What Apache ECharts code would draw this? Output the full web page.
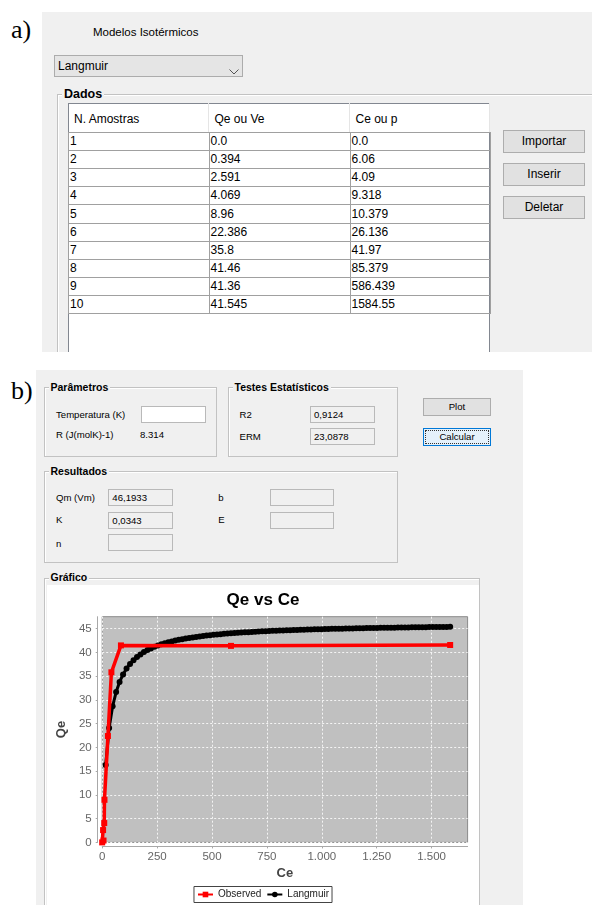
<!DOCTYPE html>
<html>
<head>
<meta charset="utf-8">
<script src="https://cdn.jsdelivr.net/npm/echarts@6/dist/echarts.min.js"></script>
<style>
body { margin: 0; width: 592px; height: 905px; background: #fff; position: relative; overflow: hidden;
       font-family: "Liberation Sans", Arial, sans-serif; color: #000; }
</style>
</head>
<body>
<script>
// dados da tabela (amostras observadas)
var amostras = [1, 2, 3, 4, 5, 6, 7, 8, 9, 10];
var qeObs = [0, 0.394, 2.591, 4.069, 8.96, 22.386, 35.8, 41.46, 41.36, 41.545];
var ceObs = [0, 6.06, 4.09, 9.318, 10.379, 26.136, 41.97, 85.379, 586.439, 1584.55];

// curva Langmuir
var ceLang = [15.8, 31.7, 47.5, 63.4, 79.2, 95.1, 110.9, 126.8, 142.6, 158.5,
    174.3, 190.1, 206.0, 221.8, 237.7, 253.5, 269.4, 285.2, 301.1, 316.9,
    332.8, 348.6, 364.4, 380.3, 396.1, 412.0, 427.8, 443.7, 459.5, 475.4,
    491.2, 507.1, 522.9, 538.7, 554.6, 570.4, 586.3, 602.1, 618.0, 633.8,
    649.7, 665.5, 681.4, 697.2, 713.0, 728.9, 744.7, 760.6, 776.4, 792.3,
    808.1, 824.0, 839.8, 855.7, 871.5, 887.3, 903.2, 919.0, 934.9, 950.7,
    966.6, 982.4, 998.3, 1014.1, 1030.0, 1045.8, 1061.6, 1077.5, 1093.3, 1109.2,
    1125.0, 1140.9, 1156.7, 1172.6, 1188.4, 1204.3, 1220.1, 1235.9, 1251.8, 1267.6,
    1283.5, 1299.3, 1315.2, 1331.0, 1346.9, 1362.7, 1378.6, 1394.4, 1410.2, 1426.1,
    1441.9, 1457.8, 1473.6, 1489.5, 1505.3, 1521.2, 1537.0, 1552.9, 1568.7, 1584.6];
var qeLang = [16.27, 24.06, 28.63, 31.64, 33.77, 35.35, 36.58, 37.56, 38.35, 39.01,
    39.57, 40.05, 40.47, 40.83, 41.15, 41.43, 41.68, 41.91, 42.11, 42.30,
    42.47, 42.63, 42.77, 42.90, 43.03, 43.14, 43.25, 43.35, 43.44, 43.52,
    43.61, 43.68, 43.75, 43.82, 43.89, 43.95, 44.00, 44.06, 44.11, 44.16,
    44.21, 44.25, 44.30, 44.34, 44.38, 44.42, 44.45, 44.49, 44.52, 44.55,
    44.59, 44.61, 44.64, 44.67, 44.70, 44.72, 44.75, 44.77, 44.80, 44.82,
    44.84, 44.86, 44.88, 44.90, 44.92, 44.94, 44.96, 44.98, 44.99, 45.01,
    45.03, 45.04, 45.06, 45.07, 45.09, 45.10, 45.11, 45.13, 45.14, 45.15,
    45.17, 45.18, 45.19, 45.20, 45.21, 45.23, 45.24, 45.25, 45.26, 45.27,
    45.28, 45.29, 45.30, 45.31, 45.32, 45.32, 45.33, 45.34, 45.35, 45.36];

var xTicks = [0, 250, 500, 750, 1000, 1250, 1500];
var yTicks = [0, 5, 10, 15, 20, 25, 30, 35, 40, 45];
var colunas = ['N. Amostras', 'Qe ou Ve', 'Ce ou p'];

// helpers
var alvo = document.body;
function el(css, text) {
    var d = document.createElement('div');
    d.style.cssText = 'position:absolute;box-sizing:border-box;' + css;
    if (text !== undefined) d.textContent = text;
    alvo.appendChild(d);
    return d;
}
function rect(x, y, w, h, css) {
    return el('left:' + x + 'px;top:' + y + 'px;width:' + w + 'px;height:' + h + 'px;' + (css || ''));
}
function label(x, cy, text, size, css) {
    return el('left:' + x + 'px;top:' + (cy - size * 0.6) + 'px;font-size:' + size + 'px;line-height:' +
        (size * 1.2) + 'px;white-space:nowrap;' + (css || ''), text);
}
function button(x, y, w, h, text, size, css) {
    var b = rect(x, y, w, h, 'background:#e1e1e1;border:1px solid #adadad;text-align:center;font-size:' + size +
        'px;line-height:' + (h - 2) + 'px;' + (css || ''));
    b.textContent = text;
    return b;
}
function grupo(x, y, w, h, titulo, size) {
    rect(x, y, w, h, 'border:1px solid #c2c2c2;box-shadow:inset 1px 1px 0 #fff;');
    label(x + 5, y, titulo, size, 'font-weight:bold;background:#f0f0f0;padding:0 2px;');
}
function campo(x, y, w, h, text, bg) {
    var c = rect(x, y, w, h, 'background:' + (bg || '#f0f0f0') + ';border:1px solid #b9b9b9;font-size:9.6px;line-height:' +
        (h - 2) + 'px;padding-left:3px;');
    if (text) c.textContent = text;
}
function fmtNum(v) {
    return Number.isInteger(v) ? v.toFixed(1) : String(v);
}

// ---------- a) ----------
label(11, 30, 'a)', 26, 'font-family:"Liberation Serif",serif;');
// painel a) cortado em y=352 como no print
alvo = rect(42, 12, 550, 340, 'background:#f0f0f0;overflow:hidden;');
var ox = 42, oy = 12;
label(93 - ox, 33 - oy, 'Modelos Isotérmicos', 11.5);
rect(54 - ox, 55 - oy, 189, 22, 'background:#e5e5e5;border:1px solid #acacac;');
label(58 - ox, 66 - oy, 'Langmuir', 12);
el('left:' + (229 - ox) + 'px;top:' + (62 - oy) + 'px;width:11px;height:7px;',
    '').innerHTML = '<svg width="11" height="7"><polyline points="0.5,0.5 5,5 9.5,0.5" fill="none" stroke="#555" stroke-width="1"/></svg>';
rect(57 - ox, 94 - oy, 560, 300, 'border:1px solid #c2c2c2;box-shadow:inset 1px 1px 0 #fff;');
label(62 - ox, 94 - oy, 'Dados', 12.5, 'font-weight:bold;background:#f0f0f0;padding:0 2px;');

// tabela
var colX = [68, 208.5, 349.5, 490];
rect(68 - ox, 103 - oy, 422, 270, 'background:#fff;border:1px solid #828790;');
for (var c = 0; c < 3; c++) {
    rect(colX[c] - ox, 103 - oy, colX[c + 1] - colX[c], 29, 'border-right:1px solid #e5e5e5;');
    label(colX[c] + 6 - ox, 119 - oy, colunas[c], 12);
}
var rowH = 18.1;
for (var r = 0; r < amostras.length; r++) {
    var y0 = Math.round(132 + rowH * r);
    var y1 = Math.round(132 + rowH * (r + 1));
    var vals = [String(amostras[r]), fmtNum(qeObs[r]), fmtNum(ceObs[r])];
    for (var c2 = 0; c2 < 3; c2++) {
        rect(Math.round(colX[c2]) - ox, y0 - oy, Math.round(colX[c2 + 1]) - Math.round(colX[c2]) + 1, y1 - y0 + 1,
            'border:1px solid #a0a0a0;');
        label(colX[c2] + 2 - ox, (y0 + y1) / 2 + 0.5 - oy, vals[c2], 12);
    }
}
button(503 - ox, 130 - oy, 82, 23, 'Importar', 12);
button(503 - ox, 163 - oy, 82, 23, 'Inserir', 12);
button(503 - ox, 196 - oy, 82, 23, 'Deletar', 12);
alvo = document.body;

// ---------- b) ----------
label(11, 391, 'b)', 26, 'font-family:"Liberation Serif",serif;');
rect(36, 370, 487, 535, 'background:#f0f0f0;');

grupo(43.5, 387, 173, 70, 'Parâmetros', 10.5);
label(56, 414.3, 'Temperatura (K)', 9.6);
campo(141, 405.5, 65, 17, '', '#fff');
label(56, 435, 'R (J(molK)-1)', 9.6);
label(140, 435, '8.314', 9.6);

grupo(227.5, 387, 170, 70, 'Testes Estatísticos', 10.5);
label(239.5, 414.3, 'R2', 9.6);
campo(310, 405.5, 65, 17, '0,9124');
label(239.5, 436.5, 'ERM', 9.6);
campo(310, 427.7, 65, 17, '23,0878');

button(423.3, 397.7, 67.4, 18.3, 'Plot', 9.6);
var calc = button(423.3, 427.7, 67.4, 18, 'Calcular', 9.6, 'background:#e5f1fb;border:1px solid #0078d7;');
calc.style.outline = '1px dotted #333';
calc.style.outlineOffset = '-3px';

grupo(43.5, 471, 354, 92, 'Resultados', 10.5);
label(56, 497.7, 'Qm (Vm)', 9.6);
campo(108.3, 489, 65, 17, '46,1933');
label(218.3, 497.7, 'b', 9.6);
campo(270, 489, 64.3, 17, '');
label(56, 520, 'K', 9.6);
campo(108.3, 511.7, 65, 17, '0,0343');
label(218.3, 520, 'E', 9.6);
campo(270, 511.7, 64.3, 17, '');
label(56, 543.3, 'n', 9.6);
campo(108.3, 534.3, 65, 17, '');

grupo(43.5, 577.5, 436.5, 340, 'Gráfico', 10.5);

var box = rect(46.7, 585, 431.6, 320, 'background:#fff;');
box.id = 'grafico';

// ---------- grafico ----------
function milhar(v) {
    if (v >= 1000) return Math.floor(v / 1000) + '.' + String(v % 1000).padStart(3, '0');
    return String(v);
}

var obsData = ceObs.map(function (c, i) { return [c, qeObs[i]]; });
var langData = ceLang.map(function (c, i) { return [c, qeLang[i]]; });

var fonte = '"Liberation Sans", Arial, sans-serif';
var chart = echarts.init(document.getElementById('grafico'));
chart.setOption({
    animation: false,
    backgroundColor: '#fff',
    textStyle: { fontFamily: fonte },
    title: {
        text: 'Qe vs Ce',
        left: 'center',
        top: 2,
        textStyle: { fontFamily: fonte, fontSize: 17, fontWeight: 'bold', color: '#000' }
    },
    legend: {
        top: 301.5,
        left: 'center',
        data: ['Observed', 'Langmuir'],
        borderColor: '#444',
        borderWidth: 1,
        padding: [3, 3, 3, 3],
        itemGap: 5,
        itemWidth: 15,
        itemHeight: 7,
        textStyle: { fontFamily: fonte, fontSize: 10, color: '#222' }
    },
    grid: {
        left: 50.6,
        top: 31.7,
        width: 370,
        height: 225.7,
        show: true,
        backgroundColor: '#c0c0c0',
        borderColor: '#8a8a8a',
        borderWidth: 1
    },
    xAxis: {
        type: 'value',
        min: 0,
        max: 1664,
        interval: 250,
        offset: 4,
        name: 'Ce',
        nameLocation: 'middle',
        nameGap: 18,
        nameTextStyle: { fontFamily: fonte, fontSize: 13, fontWeight: 'bold', color: '#444' },
        axisLine: { show: true, onZero: false, lineStyle: { color: '#a8a8a8' } },
        axisTick: { show: true, length: 2, customValues: xTicks, lineStyle: { color: '#a8a8a8' } },
        axisLabel: { margin: 4, fontSize: 11.5, color: '#666', customValues: xTicks, formatter: milhar },
        splitLine: { show: true, lineStyle: { color: '#f4f4f4', type: [2, 2], width: 1 } }
    },
    yAxis: {
        type: 'value',
        min: 0,
        max: 47.5,
        interval: 5,
        offset: 4.5,
        name: 'Qe',
        nameLocation: 'middle',
        nameGap: 23,
        nameTextStyle: { fontFamily: fonte, fontSize: 13, fontWeight: 'bold', color: '#444' },
        axisLine: { show: true, onZero: false, lineStyle: { color: '#a8a8a8' } },
        axisTick: { show: true, length: 2, customValues: yTicks, lineStyle: { color: '#a8a8a8' } },
        axisLabel: { margin: 6, fontSize: 11.5, color: '#666', customValues: yTicks },
        splitLine: { show: true, lineStyle: { color: '#f4f4f4', type: [2, 2], width: 1 } }
    },
    series: [{
        name: 'Observed',
        type: 'line',
        data: obsData,
        symbol: 'rect',
        symbolSize: 6,
        showAllSymbol: true,
        z: 3,
        lineStyle: { color: '#ff0000', width: 3.5 },
        itemStyle: { color: '#ff0000' }
    }, {
        name: 'Langmuir',
        type: 'line',
        data: langData,
        symbol: 'circle',
        symbolSize: 6,
        showAllSymbol: true,
        z: 2,
        lineStyle: { color: '#000', width: 3 },
        itemStyle: { color: '#000' }
    }]
});
</script>
</body>
</html>
